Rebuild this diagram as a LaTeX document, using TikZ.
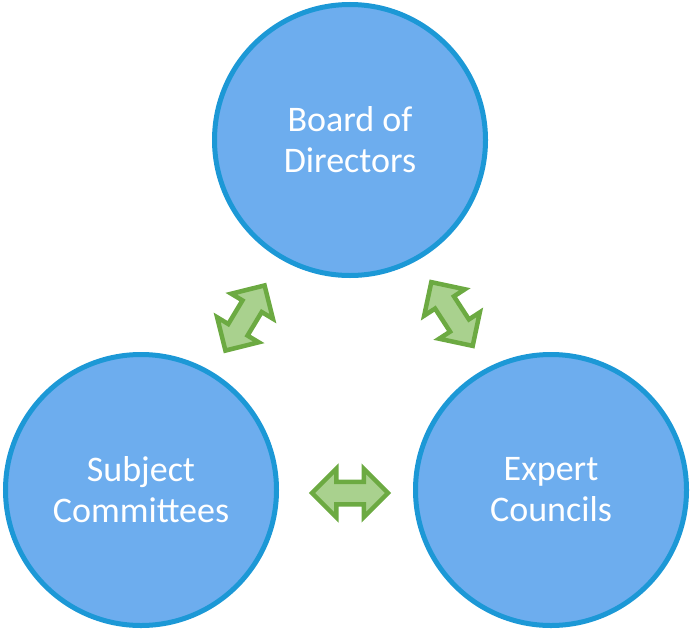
\documentclass[tikz,border=0pt]{standalone}
\usepackage{fontspec}
\setmainfont{Carlito}
\usetikzlibrary{shapes.arrows}
\definecolor{discfill}{RGB}{109,173,238}
\definecolor{discline}{RGB}{28,152,214}
\definecolor{arrfill}{RGB}{169,209,142}
\definecolor{arrline}{RGB}{108,170,66}
\tikzset{
  disc/.style={circle,draw=discline,fill=discfill,line width=5pt,
    minimum size=271pt,inner sep=0pt,align=center,text=white,
    font=\fontsize{36}{41}\selectfont},
  link/.style={double arrow,draw=arrline,fill=arrfill,line width=4.5pt,
    inner xsep=0pt,inner ysep=9pt,minimum height=76pt,
    double arrow head extend=13pt}
}
\begin{document}
\begin{tikzpicture}[x=1pt,y=-1pt]
\useasboundingbox (0,0) rectangle (692,634);
\coordinate (c1) at (350.000,140.000);
\coordinate (c2) at (141.000,490.000);
\coordinate (c3) at (551.000,490.000);
\coordinate (a1) at (245.000,318.000);
\coordinate (a2) at (452.000,314.000);
\coordinate (a3) at (350.000,493.000);
\node [disc] (board) at (c1) {Board of\\Directors};
\node [disc] (subj) at (c2) {Subject\\Committees};
\node [disc] (expert) at (c3) {Expert\\Councils};
\node [link,rotate=59] (boardsubj) at (a1) {};
\node [link,rotate=-57] (boardexpert) at (a2) {};
\node [link] (subjexpert) at (a3) {};
\end{tikzpicture}
\end{document}
